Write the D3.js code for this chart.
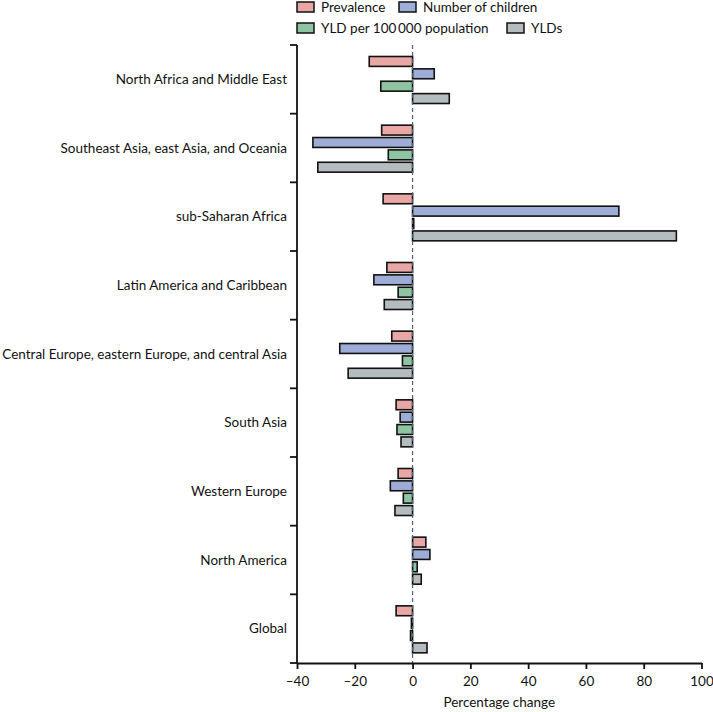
<!DOCTYPE html>
<html>
<head>
<meta charset="utf-8">
<script src="https://cdn.jsdelivr.net/npm/d3@7"></script>
<style>
  body { margin: 0; background: #fff; }
  text { font-family: Lato, "Open Sans", sans-serif; fill: #111; }
</style>
</head>
<body>
<div id="chart"></div>
<script>
// regions, top to bottom
var regions = [
  "North Africa and Middle East",
  "Southeast Asia, east Asia, and Oceania",
  "sub-Saharan Africa",
  "Latin America and Caribbean",
  "Central Europe, eastern Europe, and central Asia",
  "South Asia",
  "Western Europe",
  "North America",
  "Global"
];

var seriesNames = ["Prevalence", "Number of children", "YLD per 100\u2009000 population", "YLDs"];
var seriesColors = ["#e8a6a4", "#9dadd8", "#8fc4a3", "#b4bcc0"];

// percentage change, one array per series (same order as regions)
var prevalence = [-15.0, -10.7, -10.2, -8.9, -7.2, -5.7, -5.0, 4.6, -5.7];
var numberChildren = [7.5, -34.5, 71.4, -13.4, -25.2, -4.3, -7.7, 6.0, -0.4];
var yldRate = [-11.0, -8.4, 0.4, -5.0, -3.5, -5.4, -3.2, 1.6, -0.7];
var ylds = [12.7, -32.8, 91.3, -9.8, -22.3, -4.0, -6.1, 3.0, 5.0];

var xTicks = [-40, -20, 0, 20, 40, 60, 80, 100];

var seriesValues = [prevalence, numberChildren, yldRate, ylds];

var svgWidth = 713, svgHeight = 712;
var margin = { top: 45, right: 11, bottom: 49, left: 297 };
var chartWidth = svgWidth - margin.left - margin.right;
var chartHeight = svgHeight - margin.top - margin.bottom;

var svg = d3.select("#chart").append("svg")
  .attr("width", svgWidth)
  .attr("height", svgHeight);

var chartGroup = svg.append("g")
  .attr("transform", `translate(${margin.left}, ${margin.top})`);

var xScale = d3.scaleLinear()
  .domain([-40, 100])
  .range([0, 404.5]);

var yScale = d3.scaleBand()
  .domain(regions)
  .range([0, chartHeight]);

var inner = d3.scaleBand()
  .domain(d3.range(4))
  .range([11.5, 58.5])
  .paddingInner(0.2);

// bars
var rows = [];
regions.forEach(function(r, i) {
  seriesValues.forEach(function(vals, s) {
    rows.push({ region: r, s: s, value: vals[i] });
  });
});

chartGroup.selectAll(".bar")
  .data(rows)
  .enter()
  .append("rect")
  .attr("class", "bar")
  .attr("x", d => xScale(Math.min(0, d.value)))
  .attr("width", d => Math.abs(xScale(d.value) - xScale(0)))
  .attr("y", d => yScale(d.region) + inner(d.s))
  .attr("height", inner.bandwidth())
  .attr("fill", d => seriesColors[d.s])
  .attr("stroke", "#111")
  .attr("stroke-width", 1.6);

// zero line
chartGroup.append("line")
  .attr("x1", xScale(0)).attr("x2", xScale(0))
  .attr("y1", 0).attr("y2", chartHeight)
  .attr("stroke", "#4d6272")
  .attr("stroke-width", 1.2)
  .attr("stroke-dasharray", "4,3");

// axes
var xAxis = d3.axisBottom(xScale)
  .tickValues(xTicks)
  .tickSize(6)
  .tickSizeOuter(0)
  .tickFormat(d => d < 0 ? "\u2013" + Math.abs(d) : d);

var gx = chartGroup.append("g")
  .attr("transform", `translate(0, ${chartHeight})`)
  .call(xAxis);
gx.select(".domain").attr("stroke", "#111").attr("stroke-width", 1.8);
gx.selectAll(".tick line").attr("stroke", "#111").attr("stroke-width", 1.8);
gx.selectAll(".tick text").attr("font-size", 13.5).attr("dy", "1.05em");

var yTicks = d3.range(regions.length + 1).map(i => i * yScale.step());
var gy = chartGroup.append("g");
gy.append("line")
  .attr("x1", 0).attr("x2", 0)
  .attr("y1", 0).attr("y2", chartHeight)
  .attr("stroke", "#111").attr("stroke-width", 1.8);
gy.selectAll(".ytick")
  .data(yTicks)
  .enter()
  .append("line")
  .attr("x1", -7).attr("x2", 0)
  .attr("y1", d => d).attr("y2", d => d)
  .attr("stroke", "#111").attr("stroke-width", 1.8);

gy.selectAll(".ylabel")
  .data(regions)
  .enter()
  .append("text")
  .attr("x", -10)
  .attr("y", d => yScale(d) + yScale.bandwidth() / 2)
  .attr("dy", "0.35em")
  .attr("text-anchor", "end")
  .attr("font-size", 13.5)
  .text(d => d);

chartGroup.append("text")
  .attr("x", xScale(30))
  .attr("y", chartHeight + 44)
  .attr("text-anchor", "middle")
  .attr("font-size", 13.5)
  .text("Percentage change");

// legend
var legendPos = [[297, 1], [399, 1], [297, 22], [507, 22]];
var legend = svg.selectAll(".legend")
  .data(seriesNames)
  .enter()
  .append("g")
  .attr("transform", (d, i) => `translate(${legendPos[i][0]}, ${legendPos[i][1]})`);

legend.append("rect")
  .attr("width", 17).attr("height", 10)
  .attr("y", 1)
  .attr("fill", (d, i) => seriesColors[i])
  .attr("stroke", "#111").attr("stroke-width", 1.5);

legend.append("text")
  .attr("x", 24)
  .attr("y", 6)
  .attr("dy", "0.35em")
  .attr("font-size", 13.5)
  .text(d => d);
</script>
</body>
</html>
